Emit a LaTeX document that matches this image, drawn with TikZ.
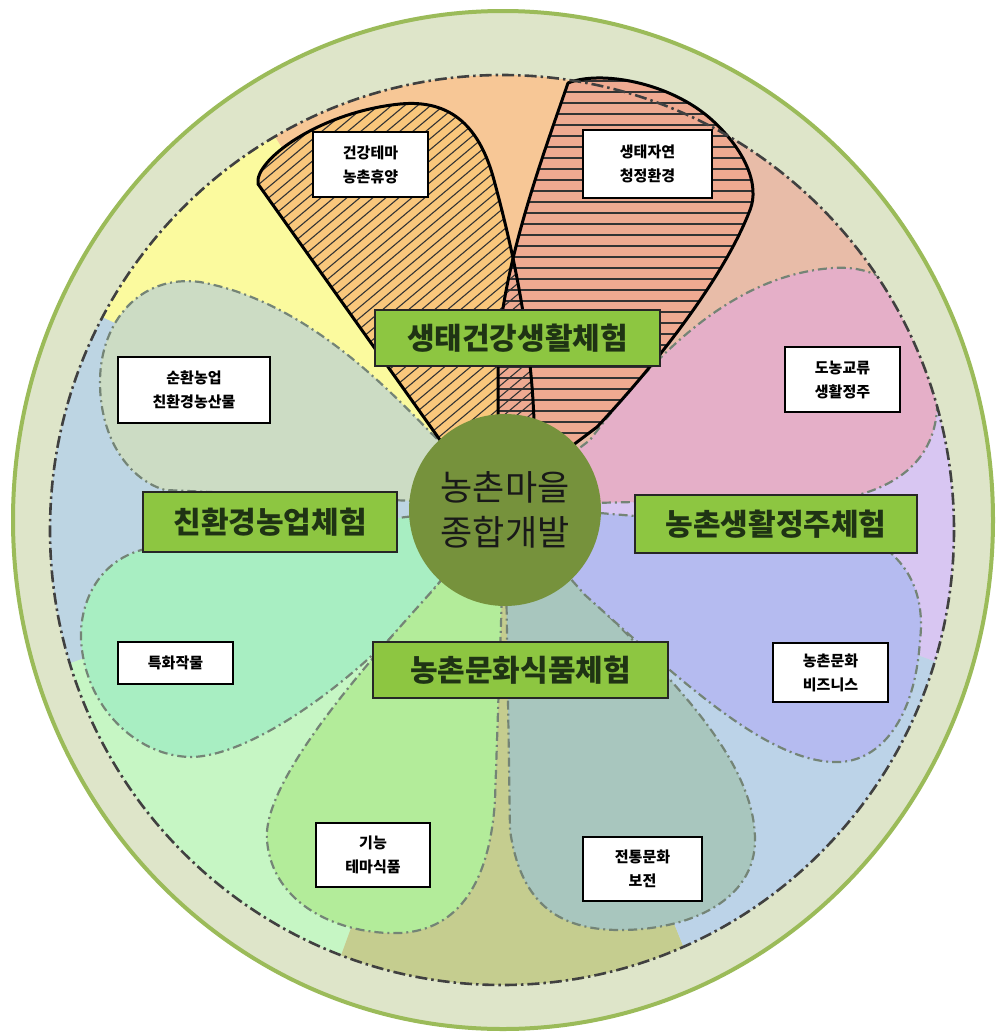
\documentclass[tikz,border=0pt]{standalone}
\usepackage{fontspec}
\setmainfont{Noto Sans CJK KR}
\definecolor{outerfill}{HTML}{DEE5C9}
\definecolor{outerborder}{HTML}{9BBB59}
\definecolor{bglav}{HTML}{D8C6F2}
\definecolor{bgsalmon}{HTML}{E8BCA8}
\definecolor{bgpeach}{HTML}{F7C796}
\definecolor{bgyellow}{HTML}{FBFA9E}
\definecolor{bgblue}{HTML}{BDD5E3}
\definecolor{bgmint}{HTML}{C6F6C4}
\definecolor{bgolive}{HTML}{C5CD8F}
\definecolor{bgblue2}{HTML}{BCD3E8}
\definecolor{pAfill}{HTML}{F9C77C}
\definecolor{pBfill}{HTML}{EFAA91}
\definecolor{pink}{HTML}{E5AFC8}
\definecolor{blue}{HTML}{B5BBF0}
\definecolor{teal}{HTML}{A8C6BE}
\definecolor{green}{HTML}{B3EC9A}
\definecolor{mint}{HTML}{A8EEC2}
\definecolor{graygreen}{HTML}{CCDCC4}
\definecolor{grouplabel}{HTML}{8DC641}
\definecolor{grouptext}{HTML}{1F3314}
\definecolor{hubfill}{HTML}{76923C}
\definecolor{petalgray}{HTML}{748476}
\definecolor{innergray}{HTML}{404040}
\begin{document}
\begin{tikzpicture}[x=1pt,y=-1pt,
  petaledge/.style={draw=petalgray, line width=2.2pt, dash pattern=on 9pt off 4pt on 2pt off 4pt},
  innerline/.style={draw=innergray, line width=2.6pt, dash pattern=on 12pt off 4pt on 2.5pt off 4pt},
  hatchline/.style={line width=1.1pt, draw=black!80},
  hatchborder/.style={draw=black, line width=3pt, line join=round},
  smallbox/.style={draw=black, line width=1.8pt, fill=white, align=center, inner sep=0pt,
    font=\fontsize{15}{24}\selectfont\bfseries},
  groupbox/.style={draw=black!85, line width=1.8pt, fill=grouplabel, text=grouptext, inner sep=0pt,
    font=\fontsize{30}{32}\selectfont\bfseries},
  hubstyle/.style={circle, fill=hubfill, minimum size=192pt, inner sep=0pt, align=center,
    text=black!90, font=\fontsize{35}{45}\selectfont}
]
\useasboundingbox (0,0) rectangle (1000,1034);
\fill[white] (0,0) rectangle (1000,1034);
\filldraw[fill=outerfill, draw=outerborder, line width=4pt] (503,520) ellipse [x radius=490, y radius=509];

\def\pA{(440,440) -- (258,184) .. controls (254,160) and (320,112) .. (400,104) .. controls (452,99) and (480,128) .. (494,180) .. controls (508,232) and (530,320) .. (534,420) -- (505,480) -- cycle}
\def\pB{(568,83) .. controls (600,70) and (670,82) .. (712,120) .. controls (745,150) and (760,185) .. (750,210) .. controls (725,275) and (660,360) .. (597,427) -- (540,470) -- (498,440) -- (498,360) .. controls (500,270) and (545,150) .. (568,83) -- cycle}
\def\pC{(505,505) -- (590,440) .. controls (650,360) and (730,275) .. (833,268) .. controls (905,263) and (942,330) .. (937,410) .. controls (933,465) and (890,488) .. (850,497) -- cycle}
\def\pD{(505,505) -- (860,535) .. controls (912,555) and (925,600) .. (920,640) .. controls (915,720) and (880,760) .. (840,762) .. controls (770,765) and (680,680) .. (585,595) -- cycle}
\def\pE{(505,505) -- (590,597) .. controls (670,677) and (755,760) .. (755,840) .. controls (755,900) and (690,930) .. (620,930) .. controls (555,930) and (520,900) .. (510,830) -- cycle}
\def\pF{(505,505) -- (433,590) .. controls (370,660) and (262,780) .. (267,840) .. controls (272,905) and (340,935) .. (400,933) .. controls (460,930) and (490,880) .. (495,800) -- cycle}
\def\pG{(505,505) -- (150,548) .. controls (95,558) and (76,610) .. (82,650) .. controls (90,712) and (140,757) .. (192,757) .. controls (262,755) and (380,660) .. (433,590) -- cycle}
\def\pH{(505,505) -- (430,432) .. controls (380,380) and (300,300) .. (200,282) .. controls (140,274) and (100,322) .. (100,382) .. controls (100,440) and (130,480) .. (165,490) -- cycle}

\begin{scope}
  \clip (502,530) ellipse [x radius=452, y radius=455];
  \fill[bglav]    (505,505) -- ++(-15:800) arc[start angle=-15, end angle=20, radius=800] -- cycle;
  \fill[bgsalmon] (505,505) -- ++(-75:800) arc[start angle=-75, end angle=-15, radius=800] -- cycle;
  \fill[bgpeach]  (505,505) -- ++(-122:800) arc[start angle=-122, end angle=-75, radius=800] -- cycle;
  \fill[bgyellow] (505,505) -- ++(-155:800) arc[start angle=-155, end angle=-122, radius=800] -- cycle;
  \fill[bgblue]   (505,505) -- ++(160:800) arc[start angle=160, end angle=205, radius=800] -- cycle;
  \fill[bgmint]   (505,505) -- ++(110:800) arc[start angle=110, end angle=160, radius=800] -- cycle;
  \fill[bgolive]  (505,505) -- ++(68:800) arc[start angle=68, end angle=110, radius=800] -- cycle;
  \fill[bgblue2]  (505,505) -- ++(20:800) arc[start angle=20, end angle=68, radius=800] -- cycle;
  \path[fill=graygreen, petaledge] \pH;
  \path[fill=mint, petaledge] \pG;
  \path[fill=green, petaledge] \pF;
  \path[fill=teal, petaledge] \pE;
  \path[fill=blue, petaledge] \pD;
  \path[fill=pink, petaledge] \pC;
\end{scope}

\fill[pAfill] \pA;
\fill[pBfill] \pB;
\begin{scope}
  \clip \pA;
  \foreach \c in {-130,-117,...,530} \draw[hatchline] (\c,500) -- ++(500,-420);
\end{scope}
\begin{scope}
  \clip \pB;
  \foreach \c in {70,81,...,480} \draw[hatchline] (470,\c) -- (780,\c);
\end{scope}
\draw[hatchborder] \pA;
\draw[hatchborder] \pB;

\draw[innerline] (502,530) ellipse [x radius=452, y radius=455];

\node[hubstyle] (hub) at (505,510) {농촌마을\\종합개발};

\node[smallbox, minimum width=115pt, minimum height=65pt] (l1) at (370.5,164.5) {건강테마\\농촌휴양};
\node[smallbox, minimum width=129pt, minimum height=68pt] (l2) at (647.5,164) {생태자연\\청정환경};
\node[smallbox, minimum width=115pt, minimum height=65pt] (l3) at (842.5,379.5) {도농교류\\생활정주};
\node[smallbox, minimum width=152pt, minimum height=66pt] (l4) at (194,390) {순환농업\\친환경농산물};
\node[smallbox, minimum width=115pt, minimum height=42pt] (l5) at (175.5,663) {특화작물};
\node[smallbox, minimum width=115pt, minimum height=59pt] (l6) at (830.5,672.5) {농촌문화\\비즈니스};
\node[smallbox, minimum width=114pt, minimum height=64pt] (l7) at (373,855) {기능\\테마식품};
\node[smallbox, minimum width=119pt, minimum height=64pt] (l8) at (642.5,869) {전통문화\\보전};

\node[groupbox, minimum width=285pt, minimum height=56pt] (g1) at (517.5,338) {생태건강생활체험};
\node[groupbox, minimum width=254pt, minimum height=60pt] (g2) at (270,522) {친환경농업체험};
\node[groupbox, minimum width=282pt, minimum height=58pt] (g3) at (776,524) {농촌생활정주체험};
\node[groupbox, minimum width=295pt, minimum height=56pt] (g4) at (520.5,670) {농촌문화식품체험};
\end{tikzpicture}
\end{document}
